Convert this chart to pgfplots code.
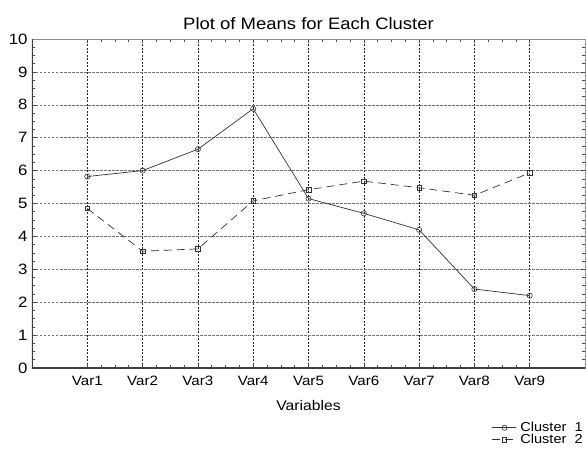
\documentclass[border=0pt]{standalone}
\usepackage{fontspec}
\setmainfont{Liberation Sans}[FakeStretch=1.12]
\usepackage{pgfplots}
\pgfplotsset{compat=1.18}
\begin{document}
\begin{tikzpicture}[x=1pt,y=1pt]
\begin{axis}[
  at={(32pt,83pt)}, anchor=south west,
  scale only axis, width=553pt, height=329pt,
  xmin=0, xmax=10, ymin=0, ymax=10,
  xtick={1,...,9},
  xticklabels={Var1,Var2,Var3,Var4,Var5,Var6,Var7,Var8,Var9},
  ytick={0,...,10},
  minor x tick num=3, minor y tick num=3,
  tick align=inside,
  major tick length=4pt, minor tick length=3pt,
  tick style={black!70, line width=0.6pt},
  xmajorgrids, ymajorgrids,
  x grid style={black!85, dash pattern=on 2pt off 1.5pt, line width=0.6pt},
  y grid style={black!55, dash pattern=on 2.5pt off 1.5pt, line width=0.6pt},
  axis line style={black!45, line width=0.8pt},
  title={Plot of Means for Each Cluster},
  title style={font=\fontsize{16.5}{18}\selectfont, yshift=0pt},
  xlabel={Variables},
  xlabel style={font=\fontsize{14}{16}\selectfont, yshift=-7pt},
  xticklabel style={font=\fontsize{13.5}{15}\selectfont, yshift=-5pt},
  yticklabel style={font=\fontsize{15}{17}\selectfont, xshift=-1pt},
  /pgf/number format/assume math mode=true,
  legend style={draw=none, fill=none, font=\fontsize{13}{13}\selectfont,
    at={(rel axis cs:0.997,-0.163)}, anchor=north east,
    row sep=0pt, inner sep=0pt, nodes={inner sep=0.5pt}},
  legend cell align=left,
  legend image code/.code={\draw[mark repeat=2,mark phase=2,#1] plot coordinates {(0pt,0pt) (12pt,0pt) (24pt,0pt)};},
]
\addplot[black!80, line width=0.7pt, mark=o, mark size=2.6pt, mark options={fill=white, solid, line width=0.6pt}]
coordinates {(1,5.82) (2,6.0) (3,6.65) (4,7.88) (5,5.15) (6,4.7) (7,4.2) (8,2.4) (9,2.2)};
\addlegendentry{\hspace{3pt}Cluster\ \ 1}
\addplot[black!80, line width=0.7pt, dash pattern=on 8pt off 5pt, mark=square, mark size=2.3pt, mark options={fill=white, solid, line width=0.6pt}]
coordinates {(1,4.85) (2,3.55) (3,3.62) (4,5.08) (5,5.42) (6,5.68) (7,5.48) (8,5.25) (9,5.93)};
\addlegendentry{\hspace{3pt}Cluster\ \ 2}
\draw[black!75, line width=1.4pt] (rel axis cs:0,1) -- (rel axis cs:0,0) -- (rel axis cs:1,0);
\end{axis}
\pgfresetboundingbox
\path (0,0) rectangle (586pt,451pt);
\end{tikzpicture}
\end{document}
